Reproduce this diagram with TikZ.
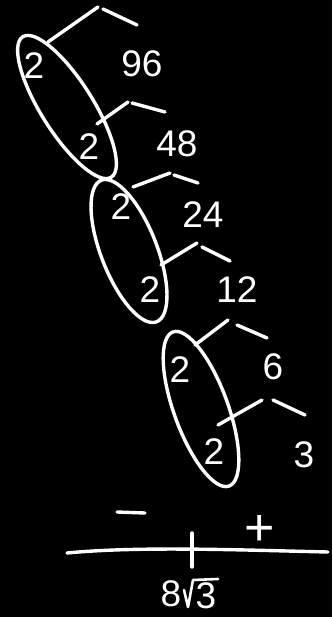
\documentclass[tikz,border=0pt]{standalone}
\usepackage{fontspec}
\setmainfont{Liberation Sans}

\begin{document}
\begin{tikzpicture}[
    x=1pt, y=-1pt,
    num/.style={text=white, inner sep=0pt, font=\fontsize{37}{40}\selectfont},
    sign/.style={text=white, inner sep=0pt, font=\fontsize{52}{56}\selectfont},
    branch/.style={draw=white, line width=3.4pt, line cap=round},
    loopline/.style={draw=white, line width=3.4pt},
    axis/.style={draw=white, line width=3.4pt, line cap=round},
    radical/.style={draw=white, line width=2.6pt, line cap=round, line join=round}
]
    % Page and background
    \useasboundingbox (0,0) rectangle (332,617);
    \fill[black] (0,0) rectangle (332,617);

    % Numbers of the factor tree
    \node[num] (two1) at (34,66) {2};
    \node[num] (n96) at (142,64) {96};
    \node[num] (two2) at (89,147) {2};
    \node[num] (n48) at (177,144) {48};
    \node[num] (two3) at (121,207) {2};
    \node[num] (n24) at (203,215) {24};
    \node[num] (two4) at (150,290) {2};
    \node[num] (n12) at (237,290) {12};
    \node[num] (two5) at (180,370) {2};
    \node[num] (n6) at (273,367) {6};
    \node[num] (two6) at (214,452) {2};
    \node[num] (n3) at (304,455) {3};

    % Branches
    \draw[branch] (48,42) -- (98,7);
    \draw[branch] (103,9) -- (137,25);
    \draw[branch] (97,124) -- (128,102);
    \draw[branch] (132,103) -- (165,112);
    \draw[branch] (133,187) -- (170,173);
    \draw[branch] (174,175) -- (198,183);
    \draw[branch] (161,265) -- (197,243);
    \draw[branch] (202,247) -- (230,261);
    \draw[branch] (195,345) -- (228,320);
    \draw[branch] (237,325) -- (267,338);
    \draw[branch] (218,425) -- (262,400);
    \draw[branch] (273,400) -- (305,415);

    % Pairs of twos
    \draw[loopline, rotate around={-57.8:(67,107)}] (67,107) ellipse (83 and 26);
    \draw[loopline, rotate around={-68.7:(129,251)}] (129,251) ellipse (76 and 28);
    \draw[loopline, rotate around={-70:(201,409)}] (201,409) ellipse (82 and 27);

    % Sign line
    \coordinate (lineL) at (67,553);
    \coordinate (lineR) at (328,552);
    \coordinate (tickT) at (192,533);
    \coordinate (tickB) at (192,567);
    \draw[axis] (lineL) .. controls (140,546) and (240,550) .. (lineR);
    \draw[axis] (tickT) -- (tickB);
    \draw[axis] (117,512) -- (145,513);
    \node[sign] (plus) at (260,530) {+};

    % Root value below the tick
    \node[num] (eight) at (171,594) {8};
    \node[num] (three) at (206,596) {3};
    \draw[radical] (184,590) -- (188,607) -- (193,580) -- (218,579);

\end{tikzpicture}
\end{document}
